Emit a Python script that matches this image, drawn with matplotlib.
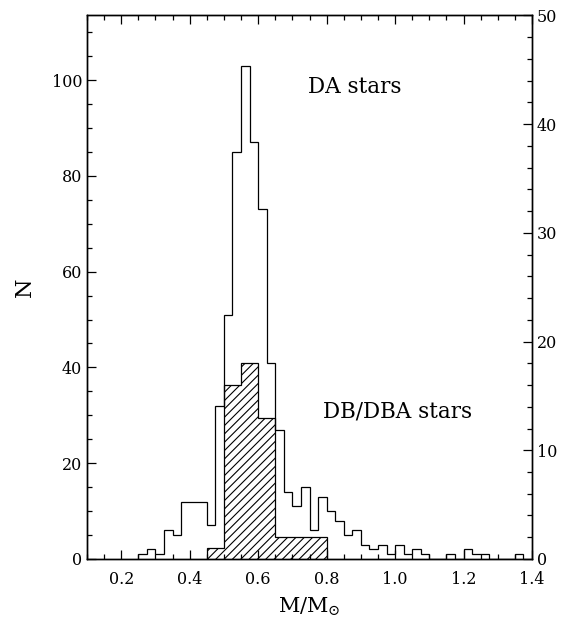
import numpy as np
import matplotlib
matplotlib.use('Agg')
from matplotlib import pyplot as plt

plt.rcParams['font.family'] = ['DejaVu Serif', 'Liberation Serif']
plt.rcParams['mathtext.fontset'] = 'dejavuserif'
plt.rcParams['hatch.linewidth'] = 0.8

# DA stars, bins of 0.025 from 0.25 to 1.375 (left axis)
da_edges = np.round(np.arange(0.25, 1.3751, 0.025), 3)
da_counts = [1, 2, 1, 6, 5, 12, 12, 12, 7, 32,
             51, 85, 103, 87, 73, 41, 27, 14, 11, 15,
             6, 13, 10, 8, 5, 6, 3, 2, 3, 1,
             3, 1, 2, 1, 0, 0, 1, 0, 2, 1,
             1, 0, 0, 0, 1]

# DB/DBA stars, bins of 0.05 from 0.45 to 0.80 (right axis)
db_edges = [0.45, 0.50, 0.55, 0.60, 0.65, 0.70, 0.75, 0.80]
db_counts = [1, 16, 18, 13, 2, 2, 2]

fig = plt.figure(figsize=(5.66, 6.28), dpi=100)
ax = fig.add_axes([0.1537, 0.1099, 0.7863, 0.8656])
ax2 = ax.twinx()

ax2.stairs(db_counts, db_edges, fill=True, facecolor='none', edgecolor='black',
           hatch='////', linewidth=0.9)
ax.stairs(da_counts, da_edges, baseline=0, color='black', linewidth=0.9)

ax.set_xlim(0.1, 1.4)
ax.set_ylim(0, 113.5)
ax2.set_ylim(0, 50)

ax.set_xticks(np.arange(0.2, 1.41, 0.2))
ax.set_xticks(np.arange(0.1, 1.41, 0.05), minor=True)
ax.set_xticklabels(['0.2', '0.4', '0.6', '0.8', '1.0', '1.2', '1.4'])
ax.set_yticks(np.arange(0, 101, 20))
ax.set_yticks(np.arange(0, 114, 5), minor=True)
ax2.set_yticks(np.arange(0, 51, 10))
ax2.set_yticks(np.arange(0, 51, 2), minor=True)

for a in (ax, ax2):
    a.tick_params(which='major', direction='in', length=6.5, width=0.9, labelsize=11.5)
    a.tick_params(which='minor', direction='in', length=3.5, width=0.9)
    for s in a.spines.values():
        s.set_linewidth(1.0)
ax.tick_params(which='both', top=True, right=False)
ax.tick_params(axis='x', pad=9)
ax2.tick_params(which='both', left=False, right=True)

ax.set_xlabel(r'M/M$_{\odot}$', fontsize=15, labelpad=5)
ax.set_ylabel('N', fontsize=16, labelpad=11)

ax.text(0.881, 98.5, 'DA stars', fontsize=15.5, ha='center', va='center')
ax.text(1.006, 30.7, 'DB/DBA stars', fontsize=15.5, ha='center', va='center')

plt.savefig('out.png', dpi=100)
